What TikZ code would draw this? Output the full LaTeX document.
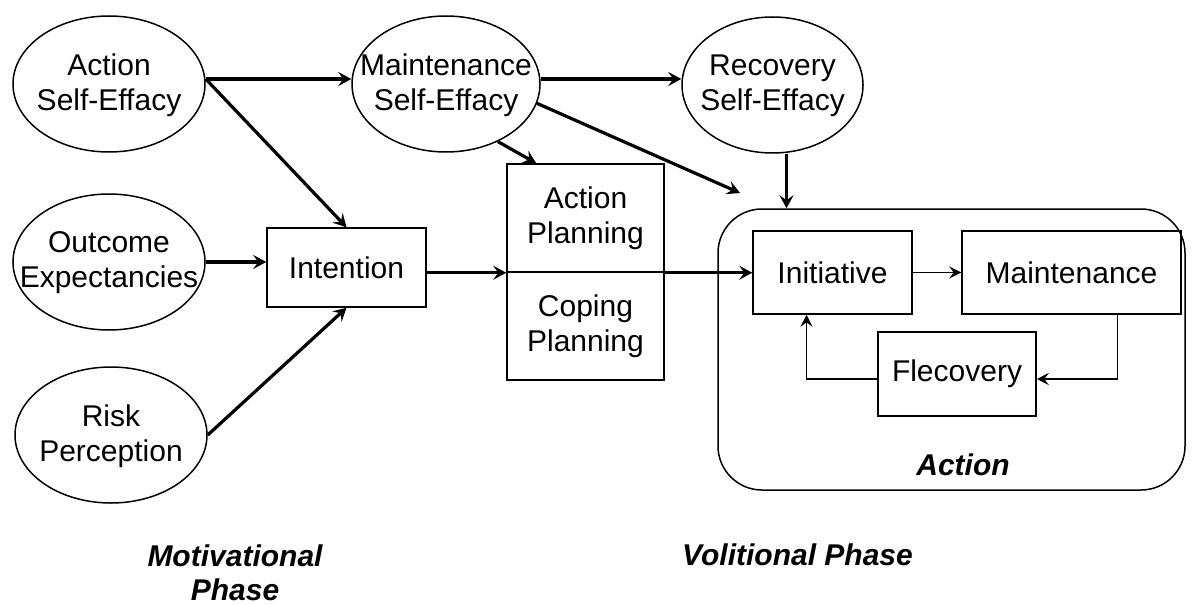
\documentclass[tikz,border=0pt]{standalone}
\usepackage{fontspec}
\setmainfont{Liberation Sans}
\usetikzlibrary{arrows.meta,shapes.geometric,calc}

\tikzset{
  ell/.style={draw, ellipse, line width=0.75pt, minimum width=96pt, minimum height=68pt, inner sep=0pt},
  txt/.style={align=center, inner sep=0pt, font=\fontsize{15}{17.5}\selectfont},
  box/.style={draw, rectangle, line width=0.75pt, align=center, inner sep=0pt, font=\fontsize{15}{17.5}\selectfont},
  arr/.style={line width=1.6pt, -{Stealth[length=6.5pt, width=7pt, inset=2.5pt]}},
  thinarr/.style={line width=0.9pt, -{Stealth[length=6pt, width=6pt, inset=2.2pt]}},
  phase/.style={anchor=base, inner sep=0pt, font=\fontsize{15}{17.5}\selectfont\bfseries\itshape},
}

\begin{document}
\begin{tikzpicture}[x=0.5pt, y=-0.5pt]
\useasboundingbox (0,0) rectangle (1197,604);

% motivational side: self-efficacy, expectancies, risk
\node[ell] (ase) at (109,84) {};
\node[txt] (aset) at (109,85) {Action\\Self-Effacy};
\node[ell] (oe) at (109,262) {};
\node[txt] (oet) at (109,263) {Outcome\\Expectancies};
\node[ell] (rp) at (111,435) {};
\node[txt] (rpt) at (111,436) {Risk\\Perception};

\node[box, minimum width=79.5pt, minimum height=39.5pt] (int) at (346.5,267.5) {Intention};

% self-efficacy along the top row
\node[ell, minimum width=94pt] (mse) at (446,84) {};
\node[txt] (mset) at (446,85) {Maintenance\\Self-Effacy};
\node[ell, minimum width=90.5pt] (rse) at (772.5,85) {};
\node[txt] (rset) at (772.5,86) {Recovery\\Self-Effacy};

% planning, split in two halves
\node[box, minimum width=78.5pt, minimum height=54pt] (pla) at (585.5,218) {Action\\Planning};
\node[box, minimum width=78.5pt, minimum height=54pt] (plc) at (585.5,326) {Coping\\Planning};

% action block
\node[draw, line width=0.75pt, rounded corners=22pt, minimum width=233.5pt, minimum height=140.5pt, inner sep=0pt] (act) at (951.5,349.5) {};
\node[box, minimum width=79.5pt, minimum height=41.5pt] (ini) at (832.5,272.5) {Initiative};
\node[box, minimum width=109.5pt, minimum height=41.5pt] (mnt) at (1071.5,272.5) {Maintenance};
\node[box, minimum width=79pt, minimum height=42pt] (flc) at (957,374) {Flecovery};
\node[inner sep=0pt, font=\fontsize{15}{17.5}\selectfont\bfseries\itshape] (actl) at (963,465) {Action};

% phase captions
\node[phase] (mot1) at (235,566) {Motivational};
\node[phase] (mot2) at (235,600) {Phase};
\node[phase] (vol) at (797.5,565) {Volitional Phase};

% connectors
\draw[arr] ([yshift=2.5pt]ase.east) -- ([yshift=2.5pt]mse.west);
\draw[arr] ([yshift=2.5pt]ase.east) -- (int.north);
\draw[arr] (oe.east) -- (oe.east -| int.west);
\draw[arr] (rp.east) -- (int.south);
\draw[arr] (int.east |- pla.south west) -- (pla.south west);
\draw[arr] (pla.south east) -- (pla.south east -| ini.west);
\draw[arr] ([yshift=2.5pt]mse.east) -- ([yshift=2.5pt]mse.east -| rse.west);
\draw[arr] (mse.-48) -- ([xshift=15pt]pla.north west);
\coordinate (actcorner) at (740,193);
\draw[arr] (mse.-12) -- (actcorner);
\draw[arr] ([xshift=7pt]rse.south) -- ([xshift=7pt]rse.south |- act.north);

% loop inside the action block
\draw[thinarr] (ini.east) -- (mnt.west);
\draw[thinarr] ([xshift=23pt]mnt.south) |- ([yshift=-2.5pt]flc.east);
\draw[thinarr] ([yshift=-2.5pt]flc.west) -| ([xshift=-13pt]ini.south);
\end{tikzpicture}
\end{document}
